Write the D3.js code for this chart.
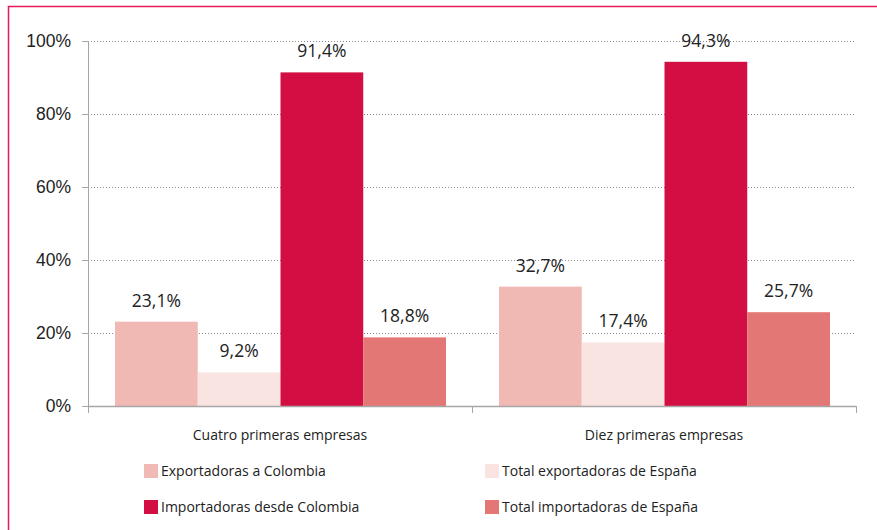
<!DOCTYPE html>
<html>
<head>
<meta charset="utf-8">
<script src="https://cdn.jsdelivr.net/npm/d3@7"></script>
<style>
  body { margin: 0; background: #fff; }
  svg { display: block; font-family: "Open Sans", "Noto Sans", sans-serif; }
</style>
</head>
<body>
<div id="chart"></div>
<script>
const categories = ["Cuatro primeras empresas", "Diez primeras empresas"];
const seriesNames = ["Exportadoras a Colombia", "Total exportadoras de España", "Importadoras desde Colombia", "Total importadoras de España"];
const seriesColors = ["#f0b9b4", "#f9e4e2", "#d30e43", "#e37775"];
const exportadorasColombia = [23.1, 32.7];
const totalExportadoras = [9.2, 17.4];
const importadorasColombia = [91.4, 94.3];
const totalImportadoras = [18.8, 25.7];
const yTicks = [0, 20, 40, 60, 80, 100];

const width = 877, height = 530, margin = { top: 41, right: 21, bottom: 124, left: 88 };
const seriesValues = [exportadorasColombia, totalExportadoras, importadorasColombia, totalImportadoras];

const svg = d3.select("#chart").append("svg")
    .attr("width", width)
    .attr("height", height);

// marco rosa
svg.append("path")
    .attr("d", `M8.5,${height} V6.5 H${width}`)
    .attr("fill", "none")
    .attr("stroke", "#e8195a")
    .attr("stroke-width", 1.5);

const chart = svg.append("g").attr("transform", `translate(${margin.left},${margin.top})`);
const w = width - margin.left - margin.right, h = height - margin.top - margin.bottom;

const x0 = d3.scaleBand().domain(categories).range([0, w]).paddingInner(0).paddingOuter(0);
const x1 = d3.scaleBand().domain(seriesNames).range([27, x0.bandwidth() - 26]).padding(0);
const y = d3.scaleLinear().domain([0, 100]).range([h, 0]);

// rejilla
chart.selectAll(".grid").data(yTicks.filter(d => d > 0)).enter()
    .append("line")
    .attr("x1", 0).attr("x2", w)
    .attr("y1", d => y(d) + 0.5).attr("y2", d => y(d) + 0.5)
    .attr("stroke", "#8a8a8a")
    .attr("stroke-dasharray", "1,2");

// eje y
const yAxis = chart.append("g")
    .call(d3.axisLeft(y).tickValues(yTicks).tickFormat(d => d + "%").tickSize(6).tickSizeOuter(0))
    .style("font-size", "17.5px");
yAxis.select(".domain").attr("stroke", "#a6a6a6").attr("d", `M0.5,${y(100)}V${h}`);
yAxis.selectAll(".tick line").attr("stroke", "#a6a6a6").attr("x1", 0);
yAxis.selectAll(".tick text").attr("fill", "#222").attr("x", -17);

// barras
const groups = chart.selectAll(".group").data(categories).enter()
    .append("g")
    .attr("transform", d => `translate(${x0(d)},0)`);

groups.selectAll("rect")
    .data((c, i) => seriesNames.map((s, j) => ({ s, v: seriesValues[j][i], color: seriesColors[j] })))
    .enter().append("rect")
    .attr("x", d => x1(d.s))
    .attr("width", x1.bandwidth())
    .attr("y", d => y(d.v))
    .attr("height", d => h - y(d.v))
    .attr("fill", d => d.color);

groups.selectAll(".label")
    .data((c, i) => seriesNames.map((s, j) => ({ s, v: seriesValues[j][i] })))
    .enter().append("text")
    .attr("x", d => x1(d.s) + x1.bandwidth() / 2)
    .attr("y", d => y(d.v) - 15)
    .attr("text-anchor", "middle")
    .style("font-size", "17.5px")
    .attr("fill", "#222")
    .text(d => d.v.toFixed(1).replace(".", ",") + "%");

// eje x
const xAxis = chart.append("g").attr("transform", `translate(0,${h})`);
xAxis.append("line").attr("x1", 0).attr("x2", w).attr("y1", 0.5).attr("y2", 0.5).attr("stroke", "#a6a6a6").attr("stroke-width", 1.5);
xAxis.selectAll(".tk").data([0, x0.bandwidth(), w]).enter()
    .append("line")
    .attr("x1", d => d + 0.5).attr("x2", d => d + 0.5)
    .attr("y1", 0).attr("y2", 7)
    .attr("stroke", "#a6a6a6");
xAxis.selectAll(".cat").data(categories).enter()
    .append("text")
    .attr("x", d => x0(d) + x0.bandwidth() / 2)
    .attr("y", 34)
    .attr("text-anchor", "middle")
    .style("font-size", "14px")
    .attr("fill", "#222")
    .text(d => d);

// leyenda
const legendPos = [[144, 471], [485, 471], [144, 507], [485, 507]];
const legend = svg.selectAll(".legend").data(seriesNames).enter()
    .append("g")
    .attr("transform", (d, i) => `translate(${legendPos[i][0]},${legendPos[i][1]})`);
legend.append("rect")
    .attr("x", 0).attr("y", -7)
    .attr("width", 14).attr("height", 14)
    .attr("fill", (d, i) => seriesColors[i]);
legend.append("text")
    .attr("x", 17).attr("y", 5)
    .style("font-size", "14px")
    .attr("fill", "#222")
    .text(d => d);
</script>
</body>
</html>
